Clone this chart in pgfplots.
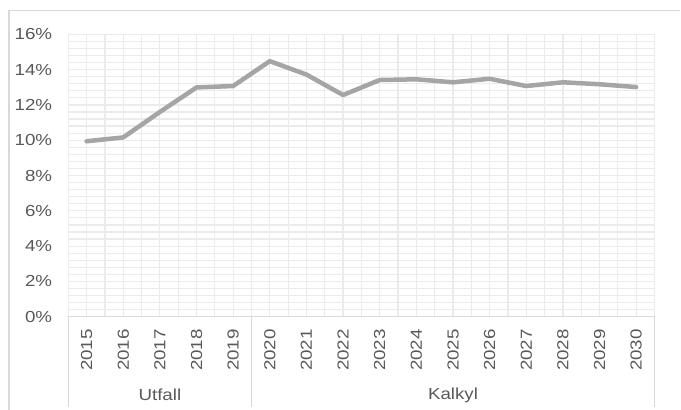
\documentclass[border=0pt]{standalone}
\usepackage{pgfplots}
\pgfplotsset{compat=1.18}
\usepackage{fontspec}
\setmainfont{Liberation Sans}[FakeStretch=1.17]
\definecolor{gridc}{HTML}{EBEBEB}
\definecolor{axc}{HTML}{D9D9D9}
\definecolor{txt}{HTML}{595959}
\definecolor{linec}{HTML}{A5A5A5}
\begin{document}
\fontsize{16pt}{18.5pt}\selectfont
\begin{tikzpicture}
\path[use as bounding box] (0pt,0pt) rectangle (681pt,-410pt);
\draw[axc, line width=1.2pt] (9pt,-410pt) -- (9pt,-10.7pt) -- (680pt,-10.7pt);
\begin{axis}[
  at={(68.3pt,-316.7pt)}, anchor=south west,
  scale only axis, width=586.2pt, height=282.4pt,
  xmin=-0.5, xmax=15.5, ymin=0, ymax=16,
  clip=false,
  xtick={0,...,15},
  xticklabels={2015,2016,2017,2018,2019,2020,2021,2022,2023,2024,2025,2026,2027,2028,2029,2030},
  ytick={0,2,...,16},
  yticklabels={0\%,2\%,4\%,6\%,8\%,10\%,12\%,14\%,16\%},
  minor x tick num=1, minor y tick num=4,
  grid=both,
  major grid style={gridc, line width=1.2pt},
  minor grid style={gridc, line width=1.2pt},
  major tick length=0pt, minor tick length=0pt,
  axis line style={gridc, line width=1.2pt},
  ticklabel style={text=txt},
  yticklabel style={anchor=east, inner sep=0pt, xshift=-16pt},
  xticklabel style={rotate=90, anchor=east, inner sep=0pt, xshift=-12.3pt},
]
\addplot[linec, line width=4.5pt, line cap=round, line join=round] coordinates {
(0,9.94) (1,10.16) (2,11.6) (3,12.99) (4,13.07) (5,14.48) (6,13.72) (7,12.56)
(8,13.41) (9,13.45) (10,13.28) (11,13.48) (12,13.07) (13,13.28) (14,13.17) (15,13.01)
};
\draw[axc, line width=1.2pt] (axis cs:-0.5,0) -- (axis cs:15.5,0);
\draw[axc, line width=1.2pt] (axis cs:-0.5,0) -- ([yshift=-90.3pt]axis cs:-0.5,0);
\draw[axc, line width=1.2pt] (axis cs:4.5,0) -- ([yshift=-90.3pt]axis cs:4.5,0);
\draw[axc, line width=1.2pt] (axis cs:15.5,0) -- ([yshift=-90.3pt]axis cs:15.5,0);
\node[text=txt] at ([yshift=-78.3pt]axis cs:2,0) {Utfall};
\node[text=txt] at ([yshift=-78.3pt]axis cs:10,0) {Kalkyl};
\end{axis}
\end{tikzpicture}
\end{document}
